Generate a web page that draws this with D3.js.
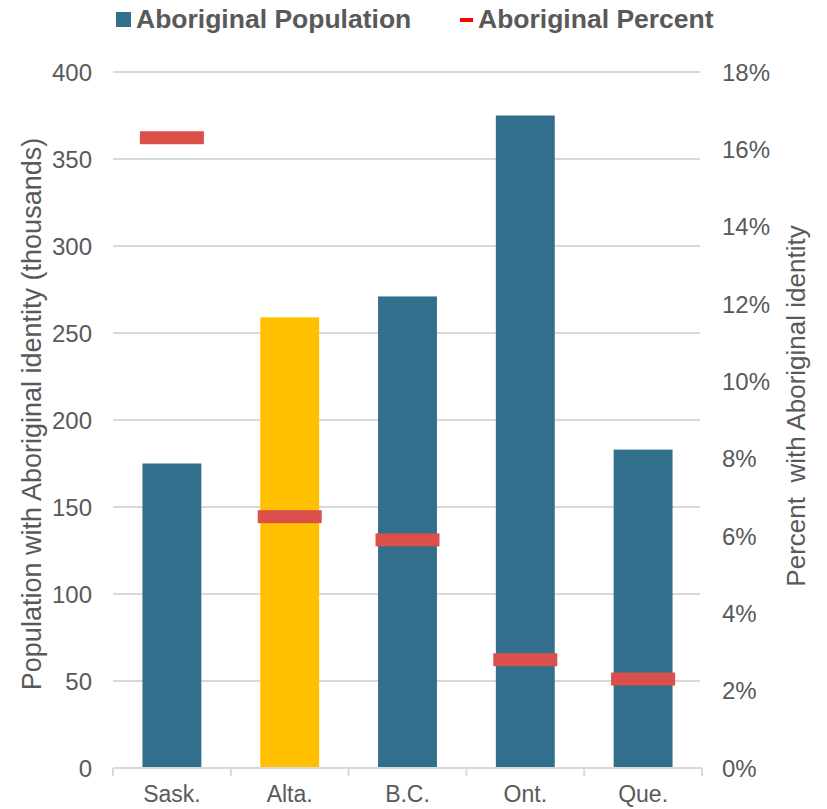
<!DOCTYPE html>
<html>
<head>
<meta charset="utf-8">
<script src="https://cdn.jsdelivr.net/npm/d3@7"></script>
<style>
  body { margin: 0; background: #fff; }
  text { font-family: "Liberation Sans", Arial, sans-serif; }
</style>
</head>
<body>
<div id="viz"></div>
<script>
const width = 827;
const height = 809;
const margin = {top: 72, right: 125, bottom: 41, left: 113};

// data
const provinces = ['Sask.', 'Alta.', 'B.C.', 'Ont.', 'Que.'];
const population = [175, 259, 271, 375, 183]; // thousands
const percent = [16.3, 6.5, 5.9, 2.8, 2.3];
const popTicks = [0, 50, 100, 150, 200, 250, 300, 350, 400];
const pctTicks = [0, 2, 4, 6, 8, 10, 12, 14, 16, 18];

const blue = '#326f8c';
const yellow = '#ffc000';
const red = '#db504a';
const textColor = '#595959';
const gridColor = '#d9d9d9';

const svg = d3.select('#viz')
  .append('svg')
    .attr('width', width)
    .attr('height', height);

const innerW = width - margin.left - margin.right;
const innerH = height - margin.top - margin.bottom;

const x = d3.scaleBand()
  .domain(provinces)
  .range([margin.left, margin.left + innerW])
  .paddingInner(0.5)
  .paddingOuter(0.25);

const band = d3.scaleBand().domain(provinces).range([margin.left, margin.left + innerW]);

const y = d3.scaleLinear().domain([0, 400]).range([margin.top + innerH, margin.top]);
const y2 = d3.scaleLinear().domain([0, 18]).range([margin.top + innerH, margin.top]);

// gridlines
svg.append('g')
  .selectAll('line')
  .data(popTicks.slice(1))
  .join('line')
    .attr('x1', margin.left)
    .attr('x2', margin.left + innerW - 2)
    .attr('y1', d => y(d))
    .attr('y2', d => y(d))
    .attr('stroke', gridColor)
    .attr('stroke-width', 2);

// left axis labels
svg.append('g')
  .selectAll('text')
  .data(popTicks)
  .join('text')
    .attr('x', 92)
    .attr('y', d => y(d))
    .attr('dy', '0.36em')
    .attr('text-anchor', 'end')
    .attr('fill', textColor)
    .style('font-size', '24px')
    .text(d => d);

// right axis labels
svg.append('g')
  .selectAll('text')
  .data(pctTicks)
  .join('text')
    .attr('x', 722)
    .attr('y', d => y2(d))
    .attr('dy', '0.36em')
    .attr('text-anchor', 'start')
    .attr('fill', textColor)
    .style('font-size', '24px')
    .text(d => d + '%');

// bars
svg.append('g')
  .selectAll('rect')
  .data(provinces)
  .join('rect')
    .attr('x', d => x(d))
    .attr('width', x.bandwidth())
    .attr('y', (d, i) => y(population[i]))
    .attr('height', (d, i) => y(0) - y(population[i]))
    .attr('fill', d => d === 'Alta.' ? yellow : blue);

// baseline + category ticks
const base = svg.append('g');
base.append('line')
  .attr('x1', margin.left)
  .attr('x2', margin.left + innerW)
  .attr('y1', y(0))
  .attr('y2', y(0))
  .attr('stroke', gridColor)
  .attr('stroke-width', 2);
base.selectAll('line.tick')
  .data(provinces.concat(['end']))
  .join('line')
    .attr('class', 'tick')
    .attr('x1', d => d === 'end' ? margin.left + innerW : band(d))
    .attr('x2', d => d === 'end' ? margin.left + innerW : band(d))
    .attr('y1', y(0))
    .attr('y2', y(0) + 8)
    .attr('stroke', gridColor)
    .attr('stroke-width', 2);

// category labels
svg.append('g')
  .selectAll('text')
  .data(provinces)
  .join('text')
    .attr('x', d => x(d) + x.bandwidth() / 2)
    .attr('y', 802)
    .attr('text-anchor', 'middle')
    .attr('fill', textColor)
    .style('font-size', '23px')
    .text(d => d);

// percent markers
const markW = 64, markH = 13;
svg.append('g')
  .selectAll('rect')
  .data(provinces)
  .join('rect')
    .attr('x', d => x(d) + x.bandwidth() / 2 - markW / 2)
    .attr('width', markW)
    .attr('y', (d, i) => y2(percent[i]) - markH / 2)
    .attr('height', markH)
    .attr('fill', red);

// axis titles
svg.append('text')
  .attr('transform', `translate(41, 414) rotate(-90)`)
  .attr('text-anchor', 'middle')
  .attr('fill', textColor)
  .style('font-size', '27px')
  .text('Population with Aboriginal identity (thousands)');

svg.append('text')
  .attr('transform', `translate(805, 406) rotate(-90)`)
  .attr('text-anchor', 'middle')
  .attr('fill', textColor)
  .style('font-size', '26px')
  .style('white-space', 'pre')
  .text('Percent  with Aboriginal identity');

// legend
const legend = svg.append('g');
legend.append('rect')
  .attr('x', 116).attr('y', 12)
  .attr('width', 15).attr('height', 15)
  .attr('fill', blue);
legend.append('text')
  .attr('x', 136).attr('y', 28)
  .attr('fill', textColor)
  .style('font-size', '26.5px')
  .style('font-weight', 'bold')
  .text('Aboriginal Population');
legend.append('rect')
  .attr('x', 460).attr('y', 18)
  .attr('width', 13).attr('height', 4)
  .attr('fill', '#ff0000');
legend.append('text')
  .attr('x', 478).attr('y', 28)
  .attr('fill', textColor)
  .style('font-size', '26.5px')
  .style('font-weight', 'bold')
  .text('Aboriginal Percent');
</script>
</body>
</html>
